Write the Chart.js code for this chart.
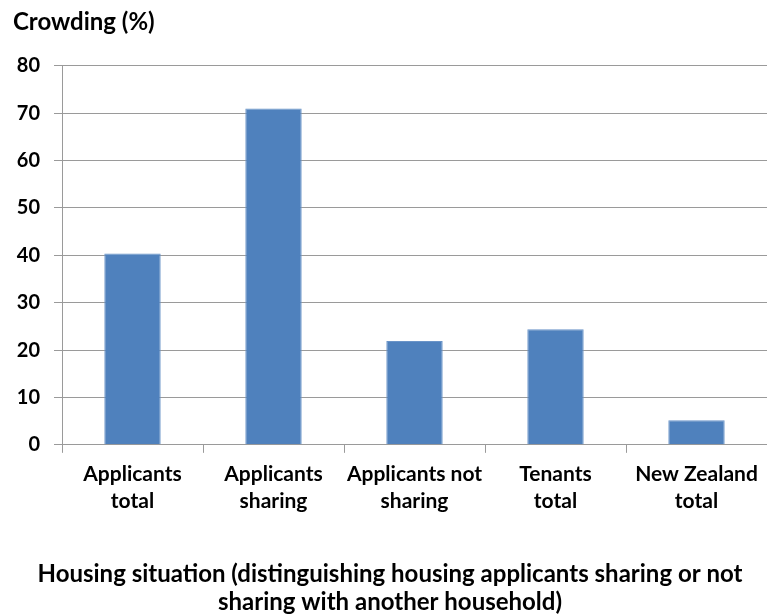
<!DOCTYPE html>
<html>
<head>
<meta charset="utf-8">
<script src="https://cdn.jsdelivr.net/npm/chart.js@4"></script>
<style>
  html, body { margin: 0; padding: 0; background: #fff; }
  #wrap { width: 767px; height: 616px; }
</style>
</head>
<body>
<div id="wrap"><canvas id="chart" width="767" height="616"></canvas></div>
<script>
// Data
const categories = [
    ['Applicants', 'total'],
    ['Applicants', 'sharing'],
    ['Applicants not', 'sharing'],
    ['Tenants', 'total'],
    ['New Zealand', 'total']
];
const crowding = [40.4, 71.0, 21.9, 24.4, 5.2];
const yTicks = [0, 10, 20, 30, 40, 50, 60, 70, 80];
const yTitle = 'Crowding (%)';
const xTitle = ['Housing situation (distinguishing housing applicants sharing or not', 'sharing with another household)'];

const FONT = 'Lato, "Open Sans", sans-serif';
const GRID = '#9a9a9a';

new Chart(document.getElementById('chart'), {
    type: 'bar',
    data: {
        labels: categories,
        datasets: [{
            label: yTitle,
            data: crowding,
            backgroundColor: '#4f81bd',
            borderColor: '#6a94c8',
            borderWidth: 1,
            barPercentage: 0.4,
            categoryPercentage: 1.0
        }]
    },
    options: {
        responsive: false,
        animation: false,
        layout: { padding: { left: 13, right: 0, top: 0, bottom: 0 } },
        plugins: {
            legend: { display: false },
            tooltip: { enabled: false },
            title: {
                display: true,
                text: yTitle,
                align: 'start',
                color: '#000',
                font: { family: FONT, size: 24, weight: 'bold', lineHeight: 1.2 },
                padding: { top: 8, bottom: 29 }
            },
            subtitle: {
                display: true,
                position: 'bottom',
                text: xTitle,
                color: '#000',
                font: { family: FONT, size: 24, weight: 'bold', lineHeight: 1.17 },
                padding: { top: 35, bottom: 0 }
            }
        },
        scales: {
            x: {
                afterFit: (axis) => { axis.height = 80; },
                grid: {
                    offset: true,
                    drawOnChartArea: false,
                    drawTicks: true,
                    tickLength: 8,
                    color: GRID
                },
                border: { color: GRID },
                ticks: {
                    color: '#000',
                    font: { family: FONT, size: 21, weight: 'bold', lineHeight: 1.29 },
                    padding: 8,
                    maxRotation: 0,
                    autoSkip: false
                }
            },
            y: {
                min: 0,
                max: 80,
                afterBuildTicks: (axis) => { axis.ticks = yTicks.map(v => ({ value: v })); },
                afterFit: (axis) => { axis.width = 49; },
                grid: { color: GRID, tickLength: 8 },
                border: { color: GRID },
                ticks: {
                    color: '#000',
                    font: { family: FONT, size: 20, weight: 'bold' },
                    padding: 14
                }
            }
        }
    }
});
</script>
</body>
</html>
